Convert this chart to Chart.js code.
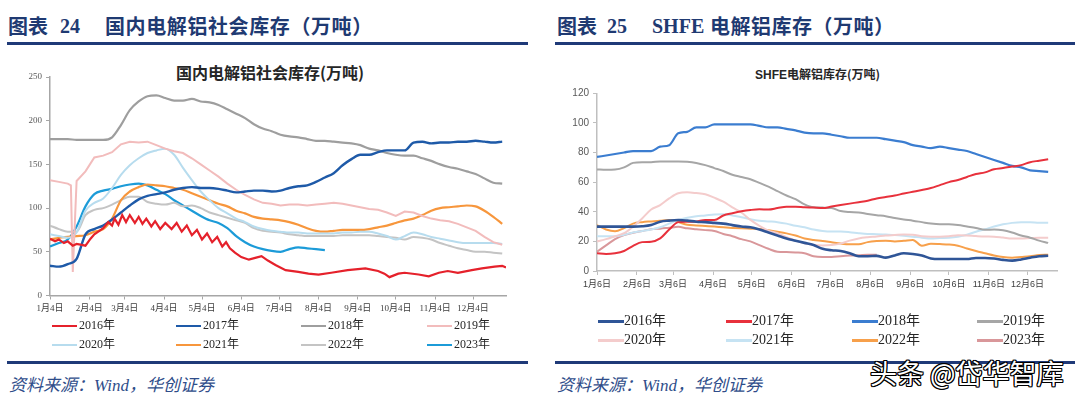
<!DOCTYPE html>
<html><head><meta charset="utf-8">
<script src="https://cdn.jsdelivr.net/npm/chart.js@4.4.1/dist/chart.umd.min.js"></script>
<style>
body{margin:0;width:1080px;height:398px;background:#fff;position:relative;overflow:hidden;font-family:"Noto Sans CJK SC",sans-serif;}
.a{position:absolute;white-space:nowrap;}
.hd{color:#1f3a72;font-weight:700;font-size:20px;line-height:20px;top:16px;}
.num{font-family:"Liberation Serif",serif;}
.rule{position:absolute;height:3px;background:#1f3a78;}
.src{color:#2f4d8a;font-style:italic;font-size:17px;line-height:20px;top:374px;}
.ttl{color:#262626;font-weight:700;}
.lg{position:absolute;white-space:nowrap;font-family:"Liberation Serif","Noto Sans CJK SC",serif;color:#262626;}
.lg i{display:inline-block;vertical-align:middle;}
canvas{position:absolute;}
</style></head>
<body>
<div class="a hd" style="left:8px;">图表</div>
<div class="a hd num" style="left:60px;">24</div>
<div class="a hd" style="left:105px;letter-spacing:0.6px;">国内电解铝社会库存（万吨）</div>
<div class="rule" style="left:7px;top:42px;width:521px;"></div>

<div class="a hd" style="left:557px;">图表</div>
<div class="a hd num" style="left:607px;">25</div>
<div class="a hd num" style="left:652px;">SHFE</div>
<div class="a hd" style="left:710px;letter-spacing:0.5px;">电解铝库存（万吨）</div>
<div class="rule" style="left:555px;top:42px;width:520px;"></div>

<div class="a ttl" style="left:176px;top:62px;font-size:16px;line-height:20px;">国内电解铝社会库存(万吨)</div>
<div class="a ttl" style="left:755px;top:66px;font-size:12px;line-height:16px;"><span style="font-family:'Liberation Sans'">SHFE</span>电解铝库存(万吨)</div>

<canvas id="c1" width="530" height="270" style="left:0;top:50px;"></canvas>
<canvas id="c2" width="530" height="250" style="left:545px;top:50px;"></canvas>

<div id="lg1"></div>
<div id="lg2"></div>

<div class="rule" style="left:7px;top:361px;width:521px;"></div>
<div class="rule" style="left:555px;top:361px;width:520px;"></div>
<div class="a src" style="left:9px;">资料来源：<span class="num">Wind</span>，华创证券</div>
<div class="a src" style="left:557px;">资料来源：<span class="num">Wind</span>，华创证券</div>
<div class="a" style="left:870px;top:358px;font-size:27px;line-height:30px;color:#fff;text-shadow:-1px -1px 0 #000,1px -1px 0 #000,-1px 1px 0 #000,1px 1px 0 #000,0 1px 0 #000,0 -1px 0 #000,1px 0 0 #000,-1px 0 0 #000;">头条 @岱华智库</div>

<script>
// ---- shared month tick positions (days from first label) ----
const monthDays = [0,31,59,90,120,151,181,212,243,273,304,334];
const domTickLabels = ['1月4日','2月4日','3月4日','4月4日','5月4日','6月4日','7月4日','8月4日','9月4日','10月4日','11月4日','12月4日'];
const shfeTickLabels = ['1月6日','2月6日','3月6日','4月6日','5月6日','6月6日','7月6日','8月6日','9月6日','10月6日','11月6日','12月6日'];
const years = ['2016年','2017年','2018年','2019年','2020年','2021年','2022年','2023年'];

// ---- 国内电解铝社会库存 (万吨) ----
const domDays = [0,7,14,21,28,35,42,49,56,63,70,77,84,91,98,105,112,119,126,133,140,147,154,161,168,175,182,189,196,203,210,217,224,231,238,245,252,259,266,273,280,287,294,301,308,315,322,329,336,343,350,357];
const dom2016Days = [0,4,7,11,14,18,21,25,28,32,35,39,42,46,49,51,54,57,60,63,67,70,73,76,80,83,87,91,96,100,104,108,112,116,120,124,128,132,136,139,142,146,151,157,162,167,172,178,186,196,204,212,222,235,249,259,264,268,275,280,291,299,307,314,322,333,341,351,357,360];
const dom2016 = [65,62,64,60,62,57,59,58,57,65,70,74,77,84,80,88,81,92,84,92,83,90,82,88,79,85,76,83,76,83,73,80,69,75,64,71,61,67,56,61,54,49,44,41,43,45,40,35,29,27,25,24,26,29,31,28,25,21,25,26,24,22,26,28,26,29,31,33,34,32];
const dom2017 = [34,33,36,42,70,76,80,87,95,103,110,114,116,118,121,123,124,123,123,122,120,118,119,120,120,119,120,123,125,126,130,135,140,149,156,161,161,164,166,166,166,175,176,174,175,175,176,176,177,176,175,176];
const dom2018 = [179,179,179,178,178,178,178,181,195,212,222,228,229,226,223,223,225,222,221,218,213,208,203,196,191,188,184,182,181,179,177,177,176,175,174,172,168,166,163,161,160,160,157,154,150,147,145,142,139,134,129,128];
const dom2019Days = [0,7,14,16.5,18,21,28,35,42,49,56,63,70,77,84,91,98,105,112,119,126,133,140,147,154,161,168,175,182,189,196,203,210,217,224,231,238,245,252,259,266,273,280,287,294,301,308,315,322,329,336,343,350,357];
const dom2019 = [132,130,128,126,27,131,142,158,160,164,173,176,175,176,172,168,165,163,157,150,143,136,128,121,115,110,106,105,103,104,104,103,104,105,106,105,103,101,99,98,95,91,96,95,91,88,86,85,82,78,74,67,61,58];
const dom2020 = [70,68,66,72,97,106,111,123,138,149,157,163,166,168,161,146,132,119,109,100,94,88,84,79,76,74,73,72,72,71,71,71,71,72,72,73,73,71,68,64,68,72,70,67,65,63,61,60,60,60,60,59];
const dom2021 = [64,66,67,68,69,73,76,88,109,119,124,127,126,125,123,121,117,113,109,105,102,97,94,90,88,87,86,84,81,77,74,73,74,75,75,75,76,78,80,83,86,88,92,97,100,101,102,103,102,97,90,82];
const dom2022 = [80,76,73,73,92,98,100,104,109,113,113,107,105,104,106,102,103,100,95,92,89,86,83,77,74,73,72,70,69,68,68,68,68,69,69,69,69,68,67,66,64,67,66,64,60,57,54,52,50,50,49,48];
const dom2023 = [56,60,64,79,102,116,120,122,125,127,128,126,121,116,109,103,97,91,86,83,77,68,61,56,53,51,50,53,55,54,53,52];
const domColors = ['#e5212b','#1e5aa8','#9e9e9e','#f2bcbc','#b7dcee','#f7963c','#c4c4c4','#1c9bd8'];

// ---- SHFE电解铝库存 (万吨) ----
const shfeDays = [0,7,14,21,28,35,42,49,56,63,70,77,84,91,98,105,112,119,126,133,140,147,154,161,168,175,182,189,196,203,210,217,224,231,238,245,252,259,266,273,280,287,294,301,308,315,322,329,336,343,350];
const shfe2016 = [30,30,30,30,30,30.2,31,33.3,34,34.4,34,33.3,33,32.5,32,31,30,29.5,28,26,24,22,20.5,19,17.5,15,14,13.5,12,10,10,10.2,9,10.5,12,11.5,10.5,8.5,8.1,8.1,8.1,8.1,8.8,8.8,8.4,7.5,7,7.8,9,10,10.3];
const shfe2017 = [12,11.5,12,13.5,17,19.5,19.8,22,28,33,33.3,33.5,34.4,34.4,37.5,39,40.3,41.2,41.7,41.5,42.5,43.4,43.4,43,42.8,42.5,43.5,44.5,45.5,46.5,47.5,49,50,51,52.3,53.5,54.7,56,58,60,61.5,63.5,65.5,66.6,68.7,69.5,70.5,71.5,73.5,74.5,75.5];
const shfe2018 = [77,78,79,80,81,81,81,84,85,93,94,97,97,99,99,99,99,99,98,97,97,96,95,93.5,93,93,92,91,90,90,90,90,89,88,87,85,84,83,84,83,82,81,79,77,75,73,71,70,68,67.5,67];
const shfe2019 = [68.6,68.3,68.5,70,73,73.5,73.5,74,74,74,73.8,73,71.5,69.5,67.5,65,63.5,62,59.5,57,54,51,48.5,45,43,42.8,42.5,40.5,39.8,39.5,38.5,37.7,37,35.8,34.8,34,33,32,31.5,31.5,31,30,29,27.8,28,27.5,26,24,22.5,20.5,19];
const shfe2020 = [20,21.5,23.5,25.5,30,35.5,41.5,44.5,49,52.5,53.1,52.6,51.8,49.5,46.8,43,39.5,34.5,30.5,27.3,25.5,22.8,20.5,18.7,17.5,17.2,17.5,18.5,20.5,22,22.8,23.3,24,24.3,24.6,24.5,23.5,23.2,23.2,23.5,24.2,24,23.6,23.3,23.2,22.6,22,22,22.2,22.4,22.5];
const shfe2021 = [23.5,23.5,23.5,24.5,26,27,28,29.5,32,34.5,36,37,37.5,38.2,38.3,37.5,36.3,35,34,33.5,33,32,30.5,29.5,28,27,26.6,26.6,26.2,25.5,25,24.9,24.6,24.3,23.8,23.2,22.5,22,22.3,22.5,23.2,24.5,26.5,28.2,30,31.5,32.5,33,33,32.5,32.5];
const shfe2022 = [31,28,26.8,29,32,33,33.5,34,34.4,33,31.3,30.8,30.4,30,29.5,29.1,28.8,28.6,28.4,27.5,26.5,25.4,24,22,21,20.3,19.4,18.5,18,18,19.5,20.2,20.5,20,20.4,21,17.1,18.4,18.2,17.9,17.1,15.2,13.5,12,10.5,9.4,9,9.5,10,10.8,11];
const shfe2023 = [13,17.3,21.5,24.3,25.8,27,28.2,28.6,29.2,29.8,28.8,28.2,27.6,27,25,23.5,21.5,20,17.5,15,13,12.8,12.5,12,10,9.5,9.5,10,10.4,10.6,11,11];
const shfeColors = ['#2f5597','#e8313c','#3b7dd0','#a6a6a6','#f4cccc','#c6e3f3','#f7a04b','#d9979a'];

const pts = (xs, ys) => ys.map((y, i) => ({x: xs[i], y}));

function makeChart(id, sets, colors, widths, tensions, cfg) {
  const datasets = sets.map((d, i) => ({
    label: years[i], data: d, borderColor: colors[i], backgroundColor: colors[i],
    borderWidth: widths[i], pointRadius: 0, fill: false,
    tension: tensions[i], cubicInterpolationMode: tensions[i] ? 'monotone' : 'default'
  }));
  const axisCol = cfg.axisColor;
  return new Chart(document.getElementById(id), {
    type: 'line',
    data: {datasets},
    options: {
      responsive: false, animation: false, devicePixelRatio: 1,
      layout: {padding: cfg.padding},
      plugins: {legend: {display: false}, tooltip: {enabled: false}, title: {display: false}},
      scales: {
        x: {
          type: 'linear', min: 0, max: cfg.xMax,
          afterBuildTicks: s => { s.ticks = monthDays.map(v => ({value: v})); },
          afterFit: s => { s.height = cfg.xH; },
          grid: {display: true, drawOnChartArea: false, drawTicks: true, tickLength: 4, color: axisCol, lineWidth: 1},
          border: {display: true, color: axisCol, width: 1.5},
          ticks: {autoSkip: false, maxRotation: 0, padding: cfg.xPad, color: '#404040',
                  font: {family: cfg.xFont, size: 9},
                  callback: v => cfg.xLabels[monthDays.indexOf(v)]}
        },
        y: {
          min: 0, max: cfg.yMax,
          afterFit: s => { s.width = cfg.yW; },
          grid: {display: true, drawOnChartArea: false, drawTicks: true, tickLength: 4, color: axisCol, lineWidth: 1},
          border: {display: true, color: axisCol, width: 1.5},
          ticks: {stepSize: cfg.yStep, padding: 4, color: '#595959', font: {family: cfg.yFont, size: cfg.yFs}}
        }
      }
    }
  });
}

makeChart('c1', [
  pts(dom2016Days, dom2016), pts(domDays, dom2017), pts(domDays, dom2018), pts(dom2019Days, dom2019),
  pts(domDays, dom2020), pts(domDays, dom2021), pts(domDays, dom2022), pts(domDays, dom2023)
], domColors, [2.2,2.4,2.2,2,2,2.2,2,2.2], [0,0.3,0.3,0,0.3,0.3,0.3,0.3], {
  padding: {left: 0, right: 24, top: 27, bottom: 0}, xMax: 360, xH: 24.5, xPad: 4,
  xFont: "'Liberation Serif','Noto Sans CJK SC'", xLabels: domTickLabels,
  yMax: 250, yStep: 50, yW: 50, yFont: "'Liberation Serif'", yFs: 9, axisColor: '#a6a6a6'
});

makeChart('c2', [
  pts(shfeDays, shfe2016), pts(shfeDays, shfe2017), pts(shfeDays, shfe2018), pts(shfeDays, shfe2019),
  pts(shfeDays, shfe2020), pts(shfeDays, shfe2021), pts(shfeDays, shfe2022), pts(shfeDays, shfe2023)
], shfeColors, [2.6,2,2.2,2,2,2,2,2], [0.3,0.3,0.3,0.3,0.3,0.3,0.3,0.3], {
  padding: {left: 0, right: 17.8, top: 43.3, bottom: 0}, xMax: 357, xH: 29, xPad: 4,
  xFont: "'Liberation Sans','Noto Sans CJK SC'", xLabels: shfeTickLabels,
  yMax: 120, yStep: 20, yW: 52, yFont: "'Liberation Sans'", yFs: 10, axisColor: '#bfbfbf'
});

// ---- HTML legends ----
function legend(el, colors, xs, ys, barW, barH, fs, gap) {
  const host = document.getElementById(el);
  years.forEach((t, i) => {
    const d = document.createElement('div');
    d.className = 'lg';
    d.style.left = xs[i % 4] + 'px';
    d.style.top = (ys[Math.floor(i / 4)] - fs * 0.6) + 'px';
    d.style.fontSize = fs + 'px';
    d.style.lineHeight = (fs * 1.2) + 'px';
    const bar = document.createElement('i');
    bar.style.width = barW + 'px'; bar.style.height = barH + 'px';
    bar.style.background = colors[i]; bar.style.marginRight = gap + 'px';
    d.appendChild(bar);
    d.appendChild(document.createTextNode(t));
    host.appendChild(d);
  });
}
legend('lg1', domColors, [52,176,301,427], [325,344], 25, 2.5, 12, 2);
legend('lg2', shfeColors, [598,726,852,977], [321,340], 26, 2.5, 14, 0);
</script>
</body></html>
